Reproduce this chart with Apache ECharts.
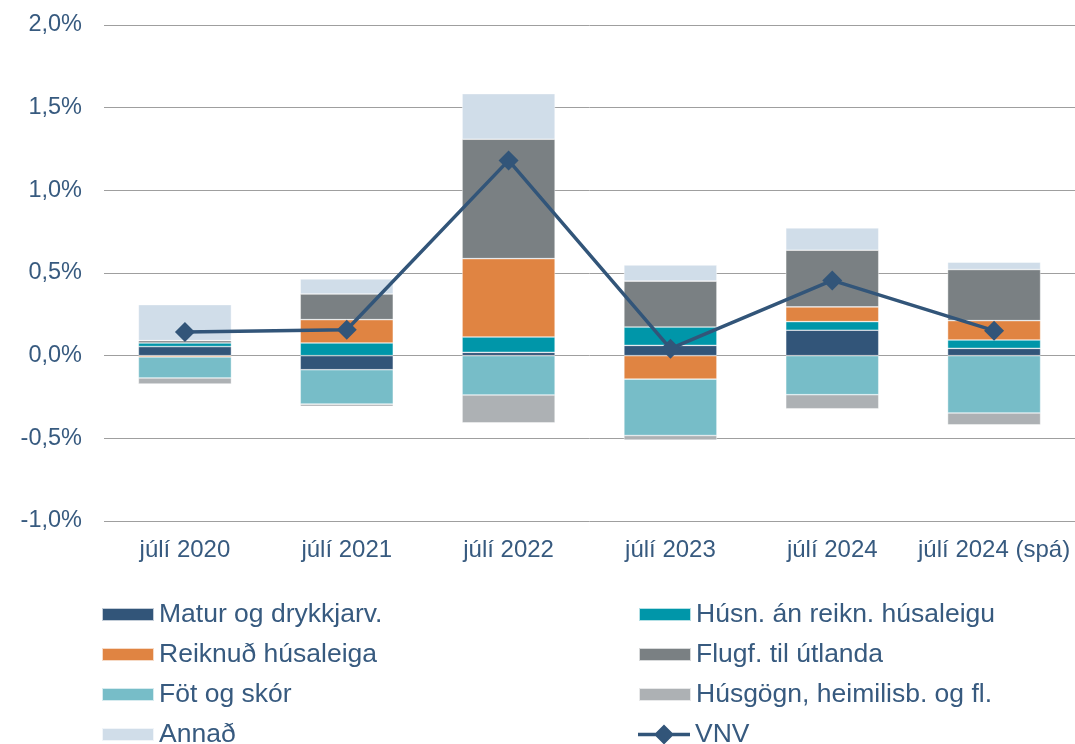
<!DOCTYPE html>
<html>
<head>
<meta charset="utf-8">
<script src="https://cdn.jsdelivr.net/npm/echarts@6/dist/echarts.min.js"></script>
<style>
  html, body { margin: 0; padding: 0; background: #fff; }
  #chart { width: 1075px; height: 744px; }
</style>
</head>
<body>
<div id="chart"></div>
<script>
const categories = ["júlí 2020", "júlí 2021", "júlí 2022", "júlí 2023", "júlí 2024", "júlí 2024 (spá)"];

// contributions, % points
const matur = [0.055, -0.085, 0.02, 0.062, 0.154, 0.044];
const husn = [0.022, 0.077, 0.093, 0.111, 0.052, 0.051];
const reiknud = [-0.008, 0.141, 0.474, -0.142, 0.089, 0.117];
const flugf = [0.014, 0.155, 0.722, 0.278, 0.343, 0.309];
const fot = [-0.127, -0.208, -0.238, -0.341, -0.236, -0.347];
const husgogn = [-0.036, -0.014, -0.168, -0.028, -0.085, -0.071];
const annad = [0.218, 0.091, 0.276, 0.097, 0.135, 0.044];
const vnv = [0.143, 0.157, 1.181, 0.042, 0.455, 0.151];

const yTicks = { min: -1, max: 2, interval: 0.5 };

const textColor = "#375a7f";
const font = "'Liberation Sans', Arial, sans-serif";

const myChart = echarts.init(document.getElementById("chart"));

const barSeries = (name, data, color) => ({
  name: name,
  type: "bar",
  stack: "total",
  data: data,
  barWidth: 93,
  itemStyle: {
    color: color,
    borderColor: "rgba(255,255,255,0.7)",
    borderWidth: 0.6,
  },
});

// one legend per entry, two columns of four rows
const legendItem = (name, left, rowCenter, extra) => Object.assign({
  orient: "vertical",
  left: left,
  top: rowCenter - 13,
  padding: 0,
  itemWidth: 52,
  itemHeight: 13,
  icon: "rect",
  textStyle: { color: textColor, fontSize: 26.5, lineHeight: 26, fontFamily: font },
  data: [name],
}, extra || {});

const vnvIcon = "path://M0,8.25 L17.75,8.25 L26,0 L34.25,8.25 L52,8.25 L52,11.75 L34.25,11.75 L26,20 L17.75,11.75 L0,11.75 Z";

const options = {
  animation: false,
  textStyle: { fontFamily: font },
  grid: { left: 104, right: 0, top: 25, bottom: 223 },
  legend: [
    legendItem("Matur og drykkjarv.", 101, 614),
    legendItem("Reiknuð húsaleiga", 101, 654),
    legendItem("Föt og skór", 101, 694),
    legendItem("Annað", 101, 734),
    legendItem("Húsn. án reikn. húsaleigu", 638, 614),
    legendItem("Flugf. til útlanda", 638, 654),
    legendItem("Húsgögn, heimilisb. og fl.", 638, 694),
    legendItem("VNV", 638, 734, { icon: vnvIcon, itemHeight: 20 }),
  ],
  xAxis: {
    type: "category",
    data: categories,
    axisLine: { show: false },
    axisTick: { show: false },
    axisLabel: { color: textColor, fontSize: 24, margin: 17, interval: 0, fontFamily: font },
  },
  yAxis: {
    type: "value",
    min: yTicks.min,
    max: yTicks.max,
    interval: yTicks.interval,
    axisLine: { show: false },
    axisTick: { show: false },
    axisLabel: {
      color: textColor,
      fontSize: 23.5,
      margin: 22,
      fontFamily: font,
      formatter: (v) => v.toFixed(1).replace(".", ",") + "%",
    },
    splitLine: { show: true, lineStyle: { color: "#9f9f9f", width: 1 } },
  },
  series: [
    barSeries("Matur og drykkjarv.", matur, "#325579"),
    barSeries("Húsn. án reikn. húsaleigu", husn, "#0096a9"),
    barSeries("Reiknuð húsaleiga", reiknud, "#e08442"),
    barSeries("Flugf. til útlanda", flugf, "#7a8083"),
    barSeries("Föt og skór", fot, "#77bdc8"),
    barSeries("Húsgögn, heimilisb. og fl.", husgogn, "#adb1b4"),
    barSeries("Annað", annad, "#d0dde9"),
    {
      name: "VNV",
      type: "line",
      data: vnv,
      symbol: "diamond",
      symbolSize: 20,
      z: 10,
      lineStyle: { color: "#325579", width: 3.5 },
      itemStyle: { color: "#325579" },
    },
  ],
};

myChart.setOption(options);
</script>
</body>
</html>
